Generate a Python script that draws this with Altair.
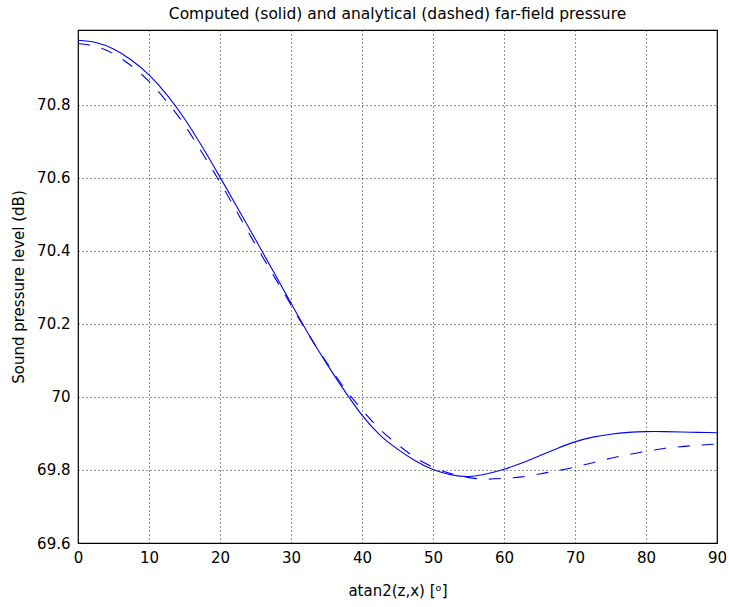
import altair as alt
import pandas as pd

angle = [0, 2.5, 5, 7.5, 10, 12.5, 15, 17.5, 20, 22.5, 25, 27.5, 30, 32.5, 35, 37.5,
         40, 42.5, 45, 47.5, 50, 52.5, 55, 57.5, 60, 62.5, 65, 67.5, 70, 72.5, 75,
         77.5, 80, 82.5, 85, 87.5, 90]
computed = [70.977, 70.971, 70.953, 70.923, 70.882, 70.828, 70.762, 70.685, 70.602,
            70.517, 70.431, 70.344, 70.257, 70.171, 70.092, 70.018, 69.950, 69.896,
            69.857, 69.825, 69.801, 69.787, 69.782, 69.789, 69.802, 69.819, 69.839,
            69.859, 69.877, 69.890, 69.898, 69.903, 69.905, 69.905, 69.904, 69.903,
            69.902]
analytical = [70.968, 70.960, 70.940, 70.907, 70.864, 70.809, 70.745, 70.668, 70.588,
              70.503, 70.417, 70.334, 70.252, 70.170, 70.095, 70.025, 69.965, 69.912,
              69.870, 69.834, 69.808, 69.790, 69.779, 69.775, 69.777, 69.781, 69.789,
              69.798, 69.808, 69.820, 69.832, 69.842, 69.851, 69.859, 69.864, 69.868,
              69.871]

x_ticks = [0, 10, 20, 30, 40, 50, 60, 70, 80, 90]
y_ticks = [69.6, 69.8, 70.0, 70.2, 70.4, 70.6, 70.8]

df_c = pd.DataFrame({"angle": angle, "spl": computed})
df_a = pd.DataFrame({"angle": angle, "spl": analytical})

FONT = "DejaVu Sans"
FS = 15

common_axis = dict(grid=True, gridColor="#000000", gridDash=[1, 3], gridOpacity=0.85,
                   ticks=False, domain=False, labelFont=FONT, titleFont=FONT,
                   labelFontSize=FS, titleFontSize=FS, labelColor="#000000",
                   titleColor="#000000", titleFontWeight="normal",
                   labelFlush=False, labelOverlap=False)

xenc = alt.X("angle:Q",
             scale=alt.Scale(domain=[0, 90], nice=False, zero=False),
             axis=alt.Axis(values=x_ticks, title="atan2(z,x) [ᵒ]", format="d",
                           labelPadding=7, titlePadding=18, **common_axis))
yenc = alt.Y("spl:Q",
             scale=alt.Scale(domain=[69.6, 71.005], nice=False, zero=False),
             axis=alt.Axis(values=y_ticks, title="Sound pressure level (dB)",
                           format="~f", labelPadding=8, titlePadding=10, **common_axis))

solid = alt.Chart(df_c).mark_line(color="#0000ff", strokeWidth=1.1, interpolate="natural").encode(
    x=xenc, y=yenc)
dashed = alt.Chart(df_a).mark_line(color="#0000ff", strokeWidth=1.1, strokeDash=[12, 12],
                                   interpolate="natural").encode(x="angle:Q", y="spl:Q")

chart = alt.layer(solid, dashed).properties(
    width=639, height=513,
    background="#ffffff",
    title=alt.Title("Computed (solid) and analytical (dashed) far-field pressure",
                    fontSize=15.5, fontWeight="normal", font=FONT, offset=8,
                    anchor="middle", color="#000000"),
    autosize=alt.AutoSizeParams(type="none"),
    padding={"left": 78, "top": 30, "right": 12, "bottom": 64},
).configure_view(stroke="#000000", strokeWidth=1.2)

chart.save("out.html", embed_options={"renderer": "svg", "actions": False})
